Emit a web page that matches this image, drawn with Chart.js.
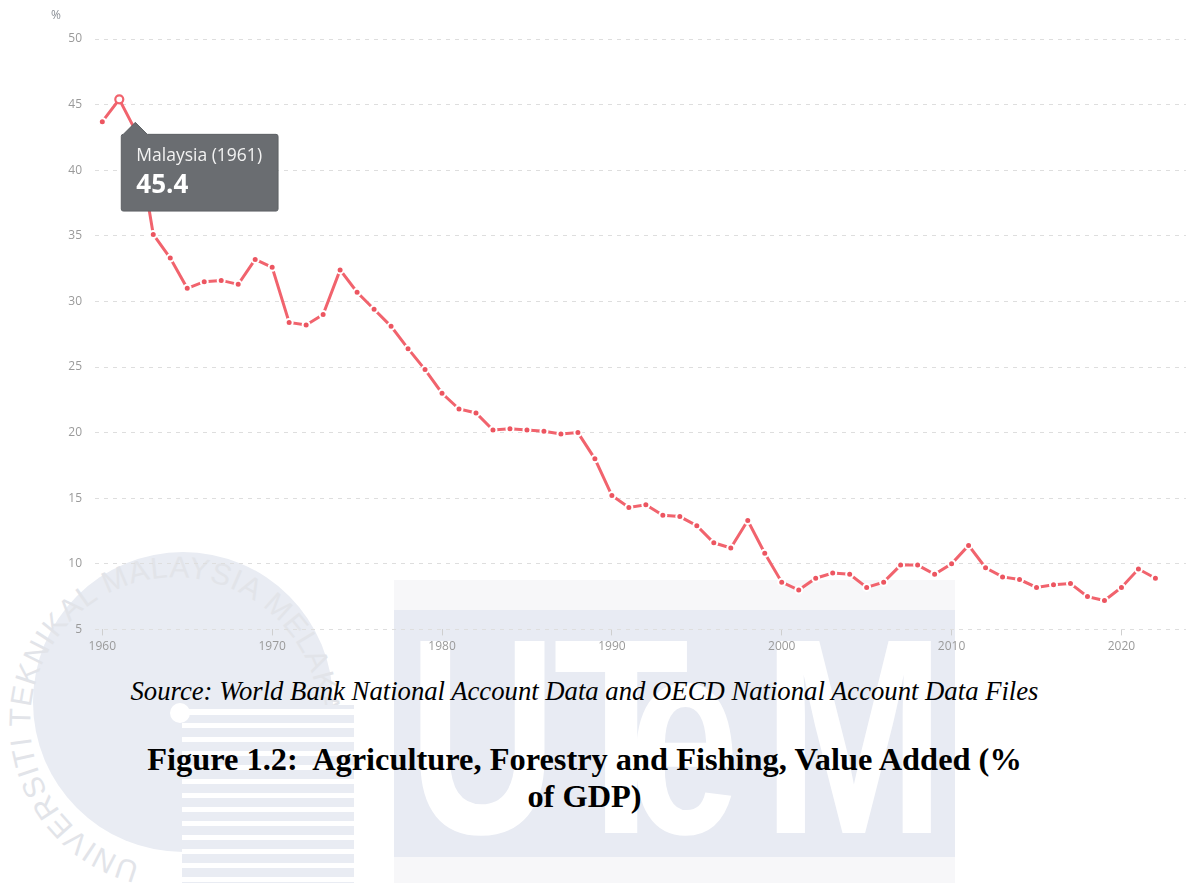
<!DOCTYPE html>
<html>
<head>
<meta charset="utf-8">
<script src="https://cdn.jsdelivr.net/npm/chart.js@4.4.0/dist/chart.umd.min.js"></script>
<style>
  html, body { margin: 0; padding: 0; background: #fff; }
  body { width: 1192px; height: 883px; position: relative; overflow: hidden; }
  #watermark { position: absolute; left: 0; top: 0; z-index: 0; }
  #chart-box { position: absolute; left: 0; top: 0; width: 1192px; height: 660px; z-index: 1; }
  #unit { position: absolute; left: 51px; top: 6px; font: 12px "Open Sans", sans-serif; color: #8a8f96; z-index: 2; }
  .caption { position: absolute; left: 0; width: 1169px; text-align: center; font-family: "Liberation Serif", "Times New Roman", serif; color: #000; z-index: 2; white-space: nowrap; }
  #source { top: 675px; font-size: 26.7px; font-style: italic; line-height: 32px; }
  #title { top: 741px; font-size: 32.4px; font-weight: bold; line-height: 37px; }
</style>
</head>
<body>
<svg id="watermark" width="1192" height="883">
  <defs>
    <path id="ring" d="M 140 863 A 145 145 0 1 1 320 717" fill="none"/>
  </defs>
  <!-- seal -->
  <circle cx="183" cy="702" r="150" fill="#e9ecf3"/>
  <text font-family="Liberation Sans, sans-serif" font-size="30" fill="#e2e4e9">
    <textPath href="#ring" textLength="640" lengthAdjust="spacing">UNIVERSITI TEKNIKAL MALAYSIA MELAKA</textPath>
  </text>
  <rect x="182" y="705" width="172" height="178" fill="#e9ecf3"/>
  <g fill="#fff">
    <circle cx="180" cy="713" r="10"/>
    <rect x="182" y="709" width="172" height="6"/>
    <rect x="182" y="723" width="172" height="5"/>
    <rect x="182" y="737" width="172" height="5"/>
    <rect x="182" y="751" width="172" height="5"/>
    <rect x="182" y="765" width="172" height="5"/>
    <rect x="182" y="779" width="172" height="5"/>
    <rect x="182" y="793" width="172" height="5"/>
    <rect x="182" y="807" width="172" height="5"/>
    <rect x="182" y="821" width="172" height="5"/>
    <rect x="182" y="835" width="172" height="5"/>
    <rect x="182" y="849" width="172" height="5"/>
    <rect x="182" y="863" width="172" height="5"/>
    <rect x="182" y="877" width="172" height="5"/>
  </g>
  <!-- UTeM block -->
  <rect x="394" y="580" width="561" height="303" fill="#f7f7f9"/>
  <rect x="394" y="610" width="561" height="247" fill="#e8ebf3"/>
  <g font-family="Liberation Sans, sans-serif" font-weight="bold" font-size="279" fill="#fff">
    <text transform="translate(408,833) scale(0.74,1)">U</text>
    <text transform="translate(553,833) scale(0.80,1)">T</text>
    <text transform="translate(628,833) scale(0.72,1)">e</text>
    <text transform="translate(762,833) scale(0.79,1)">M</text>
  </g>
</svg>

<div id="chart-box"><canvas id="chart"></canvas></div>
<div id="unit">%</div>
<div id="source" class="caption">Source: World Bank National Account Data and OECD National Account Data Files</div>
<div id="title" class="caption">Figure 1.2:&nbsp; Agriculture, Forestry and Fishing, Value Added (%<br>of GDP)</div>

<script>
// Malaysia - agriculture, forestry and fishing, value added (% of GDP)
const years = [
    1960, 1961, 1962, 1963, 1964, 1965, 1966, 1967, 1968, 1969,
    1970, 1971, 1972, 1973, 1974, 1975, 1976, 1977, 1978, 1979,
    1980, 1981, 1982, 1983, 1984, 1985, 1986, 1987, 1988, 1989,
    1990, 1991, 1992, 1993, 1994, 1995, 1996, 1997, 1998, 1999,
    2000, 2001, 2002, 2003, 2004, 2005, 2006, 2007, 2008, 2009,
    2010, 2011, 2012, 2013, 2014, 2015, 2016, 2017, 2018, 2019,
    2020, 2021, 2022
];
const shares = [
    43.7, 45.4, 42.9, 35.1, 33.3, 31.0, 31.5, 31.6, 31.3, 33.2,
    32.6, 28.4, 28.2, 29.0, 32.4, 30.7, 29.4, 28.1, 26.4, 24.8,
    23.0, 21.8, 21.5, 20.2, 20.3, 20.2, 20.1, 19.9, 20.0, 18.0,
    15.2, 14.3, 14.5, 13.7, 13.6, 12.9, 11.6, 11.2, 13.3, 10.8,
    8.6, 8.0, 8.9, 9.3, 9.2, 8.2, 8.6, 9.9, 9.9, 9.2,
    10.0, 11.4, 9.7, 9.0, 8.8, 8.2, 8.4, 8.5, 7.5, 7.2,
    8.2, 9.6, 8.9
];
const yearTicks = [1960, 1970, 1980, 1990, 2000, 2010, 2020];
const countryName = 'Malaysia';
const highlightYear = 1961;

const lineColor = '#f1636d';
const dotColor = '#ec5560';

// tooltip sits just below/right of the highlighted point, like the screenshot
Chart.Tooltip.positioners.belowRight = function(elements) {
    if (!elements.length) return false;
    const el = elements[0].element;
    return { x: el.x + 16, y: el.y + 23 };
};

const ctx = document.getElementById('chart');
const chart = new Chart(ctx, {
    type: 'line',
    data: {
        datasets: [{
            label: countryName,
            data: years.map((y, i) => ({ x: y, y: shares[i] })),
            borderColor: lineColor,
            borderWidth: 3,
            pointRadius: 3.5,
            pointBackgroundColor: dotColor,
            pointBorderColor: '#fff',
            pointBorderWidth: 2,
            pointHoverRadius: 4,
            pointHoverBackgroundColor: '#fff',
            pointHoverBorderColor: lineColor,
            pointHoverBorderWidth: 2.2,
            tension: 0
        }]
    },
    options: {
        responsive: true,
        maintainAspectRatio: false,
        animation: false,
        events: [],
        layout: { padding: { top: 39, right: 5, bottom: 0, left: 0 } },
        scales: {
            x: {
                type: 'linear',
                min: 1959.57,
                max: 2023.8,
                afterBuildTicks: (scale) => {
                    scale.ticks = yearTicks.map(v => ({ value: v }));
                },
                afterFit: (scale) => { scale.height = 30.6; },
                border: { display: false },
                grid: {
                    drawOnChartArea: false,
                    drawTicks: true,
                    tickLength: 6,
                    tickColor: '#cfcfcf'
                },
                ticks: {
                    color: '#9a9a9a',
                    font: { family: 'Open Sans', size: 12 },
                    padding: 4,
                    maxRotation: 0,
                    callback: (v) => String(v)
                }
            },
            y: {
                min: 5,
                max: 50,
                afterFit: (scale) => { scale.width = 95; },
                border: { display: false, dash: [4, 5] },
                grid: {
                    color: '#dedede',
                    lineWidth: 1,
                    drawTicks: false
                },
                ticks: {
                    stepSize: 5,
                    color: '#9a9a9a',
                    font: { family: 'Open Sans', size: 12 },
                    padding: 13
                }
            }
        },
        plugins: {
            legend: { display: false },
            tooltip: {
                enabled: true,
                position: 'belowRight',
                xAlign: 'left',
                yAlign: 'top',
                backgroundColor: '#6a6d71',
                borderColor: '#5d6064',
                borderWidth: 1,
                cornerRadius: 2,
                caretSize: 12,
                caretPadding: 0,
                displayColors: false,
                padding: { top: 11, bottom: 10, left: 15, right: 16 },
                titleColor: '#f2f2f2',
                titleFont: { family: 'Open Sans', size: 17.5, weight: 'normal' },
                titleMarginBottom: 3.5,
                bodyColor: '#ffffff',
                bodyFont: { family: 'Open Sans', size: 26, weight: 'bold' },
                callbacks: {
                    title: (items) => `${countryName} (${items[0].raw.x})`,
                    label: (item) => item.raw.y.toFixed(1)
                }
            }
        }
    }
});

const hi = years.indexOf(highlightYear);
chart.setActiveElements([{ datasetIndex: 0, index: hi }]);
chart.tooltip.setActiveElements([{ datasetIndex: 0, index: hi }], { x: 0, y: 0 });
chart.update('none');
</script>
</body>
</html>
